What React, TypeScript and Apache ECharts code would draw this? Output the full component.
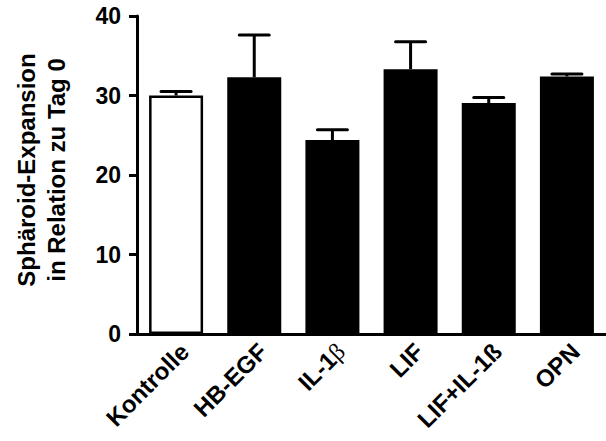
import React, { useEffect, useRef } from "react";
import * as echarts from "echarts";

const categories = ["Kontrolle", "HB-EGF", "IL-1β", "LIF", "LIF+IL-1ß", "OPN"];
const means = [30.0, 32.3, 24.4, 33.3, 29.05, 32.4];
const errors = [0.5, 5.3, 1.3, 3.45, 0.7, 0.3];
const barFills = ["#ffffff", "#000000", "#000000", "#000000", "#000000", "#000000"];
const yTicks = { min: 0, max: 40, interval: 10 };
const yTitle = "Sphäroid-Expansion\nin Relation zu Tag 0";

const FONT = "'Liberation Sans', Arial, Helvetica, sans-serif";

export default function App() {
  const ref = useRef<HTMLDivElement>(null);
  useEffect(() => {
    if (!ref.current) return;
    const chart = echarts.init(ref.current, undefined, { renderer: "svg" });
    const option: any = {
      animation: false,
      backgroundColor: "#ffffff",
      grid: { left: 137, right: -8, top: 16, bottom: 107, containLabel: false },
      xAxis: {
        type: "category",
        data: categories,
        axisLine: { show: true, lineStyle: { color: "#000", width: 3 } },
        axisTick: { show: false },
        axisLabel: {
          interval: 0,
          rotate: 45,
          margin: 5,
          align: "right",
          verticalAlign: "top",
          color: "#000",
          fontSize: 24,
          fontWeight: "bold",
          fontFamily: FONT,
          formatter: (v: string) => (v.endsWith("β") ? "{a|" + v.slice(0, -1) + "}{g|β}" : v),
          rich: {
            a: { fontSize: 24, fontWeight: "bold", fontFamily: FONT, color: "#000" },
            g: { fontSize: 24, fontWeight: "normal", fontFamily: "'Liberation Serif', 'DejaVu Serif', serif", color: "#000" },
          },
        },
        splitLine: { show: false },
      },
      yAxis: {
        type: "value",
        min: yTicks.min,
        max: yTicks.max,
        interval: yTicks.interval,
        axisLine: { show: true, lineStyle: { color: "#000", width: 3 } },
        axisTick: { show: true, length: 8, lineStyle: { color: "#000", width: 3 } },
        axisLabel: {
          margin: 16,
          color: "#000",
          fontSize: 23,
          fontWeight: "bold",
          fontFamily: FONT,
        },
        splitLine: { show: false },
      },
      graphic: [
        {
          type: "text",
          x: 41,
          y: 170,
          rotation: Math.PI / 2,
          style: {
            text: yTitle,
            fontSize: 24,
            fontWeight: "bold",
            fontFamily: FONT,
            fill: "#000",
            align: "center",
            verticalAlign: "middle",
            lineHeight: 30,
          },
        },
      ],
      series: [
        {
          type: "bar",
          barWidth: 54,
          data: means.map((v, i) => ({
            value: v,
            itemStyle: { color: barFills[i], borderColor: "#000", borderWidth: 2.5 },
          })),
          z: 2,
        },
        {
          type: "custom",
          z: 3,
          data: means.map((v, i) => [i, v, errors[i]]),
          encode: { x: 0, y: 1 },
          renderItem: (params: any, api: any) => {
            const idx = api.value(0);
            const m = api.value(1);
            const e = api.value(2);
            const base = api.coord([idx, m]);
            const top = api.coord([idx, m + e]);
            const half = 15;
            const style = { stroke: "#000", lineWidth: 3 };
            return {
              type: "group",
              children: [
                { type: "line", shape: { x1: base[0], y1: base[1], x2: top[0], y2: top[1] }, style },
                { type: "line", shape: { x1: top[0] - half, y1: top[1], x2: top[0] + half, y2: top[1] }, style: { ...style, lineCap: "round" } },
              ],
            };
          },
        },
      ],
    };
    chart.setOption(option);
    return () => chart.dispose();
  }, []);
  return (
    <div
      ref={ref}
      style={{ position: "absolute", left: 0, top: 0, width: 606, height: 441 }}
    />
  );
}
